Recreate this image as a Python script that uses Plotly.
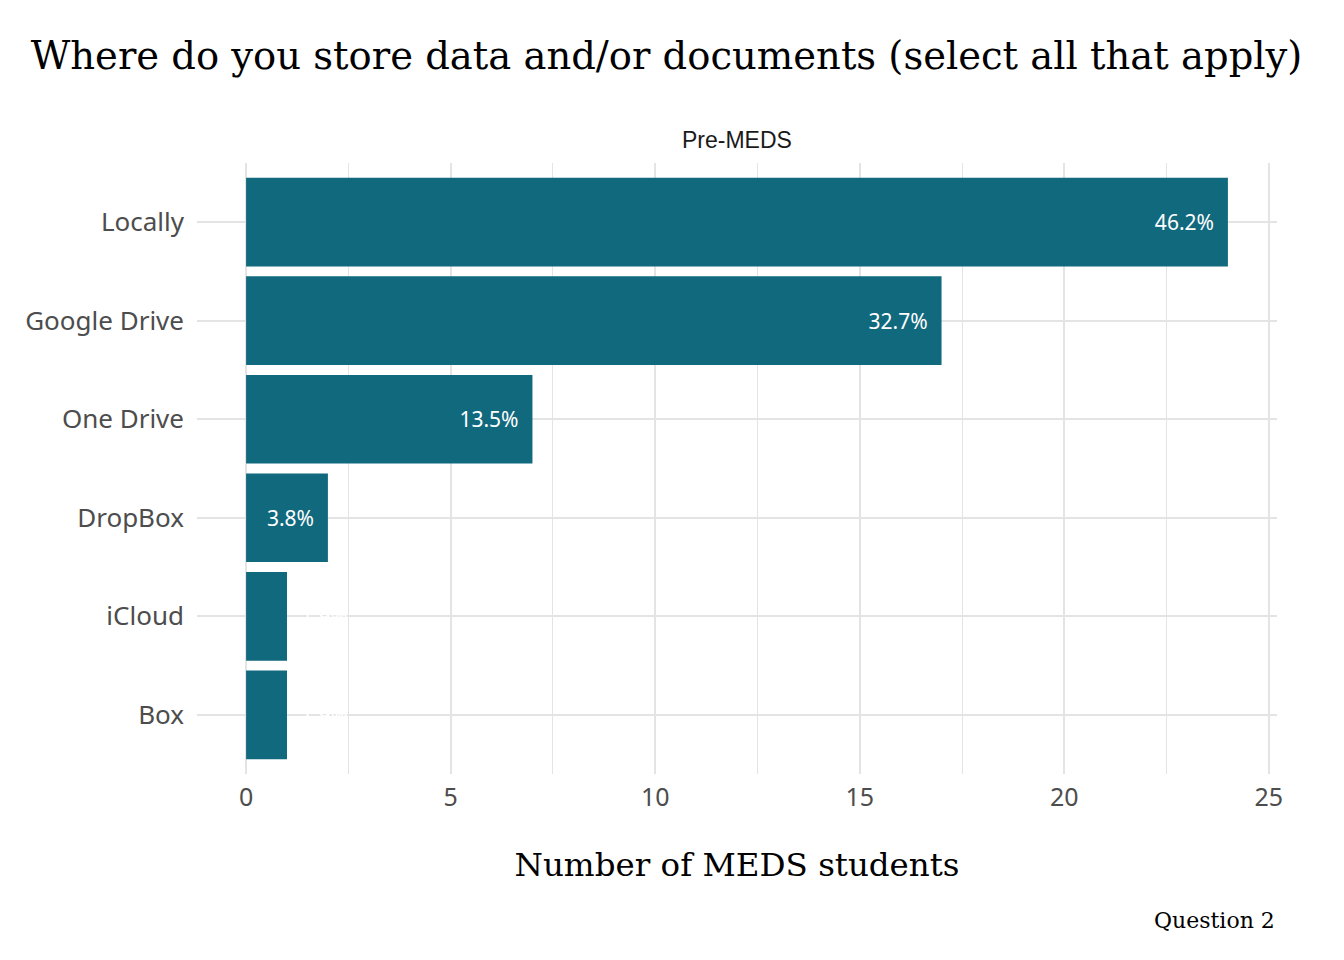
"""Storage locations reported by MEDS students (question 2)."""

import plotly.graph_objects as go

categories = ["Locally", "Google Drive", "One Drive", "DropBox", "iCloud", "Box"]
counts = [24, 17, 7, 2, 1, 1]
pct_labels = ["46.2%", "32.7%", "13.5%", "3.8%", "1.9%", "1.9%"]

BAR = "#11697e"
GRID = "#e4e4e4"
SERIF = "DejaVu Serif"
SANS = "Noto Sans"
NBSP2 = "\u00a0\u00a0"

# small bars get their label outside, the rest inside at the bar end
inside = [c >= 2 for c in counts]

fig = go.Figure()
fig.add_trace(
    go.Bar(
        x=counts,
        y=categories,
        orientation="h",
        width=0.9,
        marker={"color": BAR, "line": {"width": 0}},
        text=pct_labels,
        texttemplate=["%{text}" + NBSP2 if i else NBSP2 + "%{text}" for i in inside],
        textposition=["inside" if i else "outside" for i in inside],
        insidetextanchor="end",
        textfont={"family": SANS, "size": 21, "color": "white"},
        cliponaxis=False,
        hoverinfo="skip",
    )
)

fig.update_layout(
    width=1344,
    height=960,
    margin={"l": 189, "r": 75, "t": 155, "b": 194},
    paper_bgcolor="white",
    plot_bgcolor="white",
    showlegend=False,
    title={
        "text": "Where do you store data and/or documents (select all that apply)",
        "x": 0.49,
        "xref": "container",
        "xanchor": "center",
        "y": 0.951,
        "yref": "container",
        "yanchor": "middle",
        "font": {"family": SERIF, "size": 38.5, "color": "black"},
    },
    xaxis={
        "range": [-1.2, 25.2],
        "tickvals": [0, 5, 10, 15, 20, 25],
        "showgrid": True,
        "gridcolor": GRID,
        "gridwidth": 2,
        "minor": {"showgrid": True, "dtick": 2.5, "tick0": 0, "gridcolor": GRID, "gridwidth": 1},
        "zeroline": False,
        "showline": False,
        "ticks": "",
        "ticklabelstandoff": 6,
        "tickfont": {"family": SANS, "size": 25, "color": "#4d4d4d"},
        "title": {
            "text": "Number of MEDS students",
            "font": {"family": SERIF, "size": 32.5, "color": "black"},
            "standoff": 41,
        },
    },
    yaxis={
        "categoryorder": "array",
        "categoryarray": categories,
        "range": [5.6, -0.6],
        "showgrid": True,
        "gridcolor": GRID,
        "gridwidth": 2,
        "zeroline": False,
        "showline": False,
        "ticks": "",
        "ticklabelstandoff": 12,
        "tickfont": {"family": SANS, "size": 26, "color": "#4d4d4d"},
    },
    annotations=[
        {
            "text": "Pre-MEDS",
            "x": 0.5,
            "xref": "paper",
            "y": 1.0,
            "yref": "paper",
            "yanchor": "middle",
            "yshift": 23,
            "showarrow": False,
            "font": {"family": "Liberation Sans", "size": 23, "color": "#1a1a1a"},
        },
        {
            "text": "Question 2",
            "x": 1.0,
            "xref": "paper",
            "xanchor": "right",
            "y": -0.239,
            "yref": "paper",
            "yanchor": "middle",
            "showarrow": False,
            "font": {"family": SERIF, "size": 22, "color": "black"},
        },
    ],
)

fig.write_html("out.html")
